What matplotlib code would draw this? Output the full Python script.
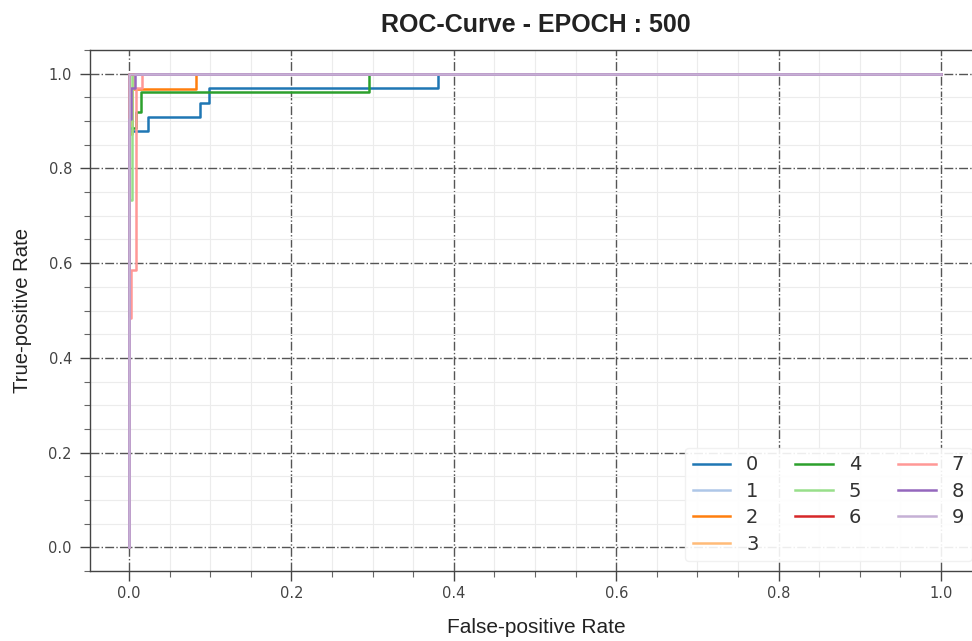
import matplotlib
matplotlib.use("Agg")
import matplotlib.pyplot as plt
from matplotlib.ticker import MultipleLocator

title = "ROC-Curve - EPOCH : 500"
class_labels = ["0", "1", "2", "3", "4", "5", "6", "7", "8", "9"]
colors = ["#1f77b4", "#aec7e8", "#ff7f0e", "#ffbb78", "#2ca02c",
          "#98df8a", "#d62728", "#ff9896", "#9467bd", "#c5b0d5"]

fpr_0 = [0, 0, 0.023, 0.023, 0.087, 0.087, 0.099, 0.099, 0.38, 0.38, 1]
tpr_0 = [0, 0.879, 0.879, 0.909, 0.909, 0.939, 0.939, 0.970, 0.970, 1.0, 1.0]
fpr_1 = [0, 0, 1]
tpr_1 = [0, 1.0, 1.0]
fpr_2 = [0, 0, 0.004, 0.004, 0.083, 0.083, 1]
tpr_2 = [0, 0.873, 0.873, 0.968, 0.968, 1.0, 1.0]
fpr_3 = [0, 0, 0.005, 0.005, 1]
tpr_3 = [0, 0.968, 0.968, 1.0, 1.0]
fpr_4 = [0, 0, 0.009, 0.009, 0.015, 0.015, 0.296, 0.296, 1]
tpr_4 = [0, 0.885, 0.885, 0.920, 0.920, 0.962, 0.962, 1.0, 1.0]
fpr_5 = [0, 0, 0.004, 0.004, 1]
tpr_5 = [0, 0.733, 0.733, 1.0, 1.0]
fpr_6 = [0, 0, 1]
tpr_6 = [0, 1.0, 1.0]
fpr_7 = [0, 0, 0.003, 0.003, 0.009, 0.009, 0.016, 0.016, 1]
tpr_7 = [0, 0.485, 0.485, 0.585, 0.585, 0.970, 0.970, 1.0, 1.0]
fpr_8 = [0, 0, 0.002, 0.002, 0.008, 0.008, 1]
tpr_8 = [0, 0.905, 0.905, 0.970, 0.970, 1.0, 1.0]
fpr_9 = [0, 0, 1]
tpr_9 = [0, 1.0, 1.0]

fprs = [fpr_0, fpr_1, fpr_2, fpr_3, fpr_4, fpr_5, fpr_6, fpr_7, fpr_8, fpr_9]
tprs = [tpr_0, tpr_1, tpr_2, tpr_3, tpr_4, tpr_5, tpr_6, tpr_7, tpr_8, tpr_9]

fig = plt.figure(figsize=(9.72, 6.41), dpi=100)
ax = fig.add_axes([0.0926, 0.1092, 0.9173, 0.8128])

for f, t, c, lab in zip(fprs, tprs, colors, class_labels):
    ax.plot(f, t, color=c, lw=1.8, label=lab)

ax.set_xlim(-0.048, 1.05)
ax.set_ylim(-0.05, 1.05)
ax.xaxis.set_major_locator(MultipleLocator(0.2))
ax.yaxis.set_major_locator(MultipleLocator(0.2))
ax.xaxis.set_minor_locator(MultipleLocator(0.05))
ax.yaxis.set_minor_locator(MultipleLocator(0.05))
ax.set_axisbelow(True)
ax.grid(which="major", linestyle="-.", color="#555555", lw=1.0)
ax.grid(which="minor", linestyle="-", color="#ececec", lw=0.8)
ax.tick_params(which="major", length=7, width=1, color="#444444",
               labelsize=10.5, labelcolor="#444444", pad=6)
ax.tick_params(axis="x", which="major", pad=4)
ax.tick_params(which="minor", length=4, width=0.8, color="#666666")
for s in ax.spines.values():
    s.set_color("#444444")
    s.set_linewidth(1.0)

lab_font = ["Liberation Sans", "DejaVu Sans"]
ax.set_title(title, fontsize=18, fontweight="bold", family=lab_font,
             color="#222222", pad=13)
ax.set_xlabel("False-positive Rate", fontsize=15, family=lab_font,
              color="#222222", labelpad=12)
ax.set_ylabel("True-positive Rate", fontsize=14.6, family=lab_font,
              color="#222222", labelpad=12)

leg = ax.legend(ncol=3, loc="lower right", fontsize=14, frameon=True,
                handlelength=1.95, columnspacing=1.9, labelspacing=0.38,
                borderaxespad=0.5)
leg.get_frame().set_facecolor("white")
leg.get_frame().set_edgecolor("#f0f0f0")
leg.get_frame().set_alpha(0.9)
for t in leg.get_texts():
    t.set_color("#333333")

fig.savefig("out.png", dpi=100)
